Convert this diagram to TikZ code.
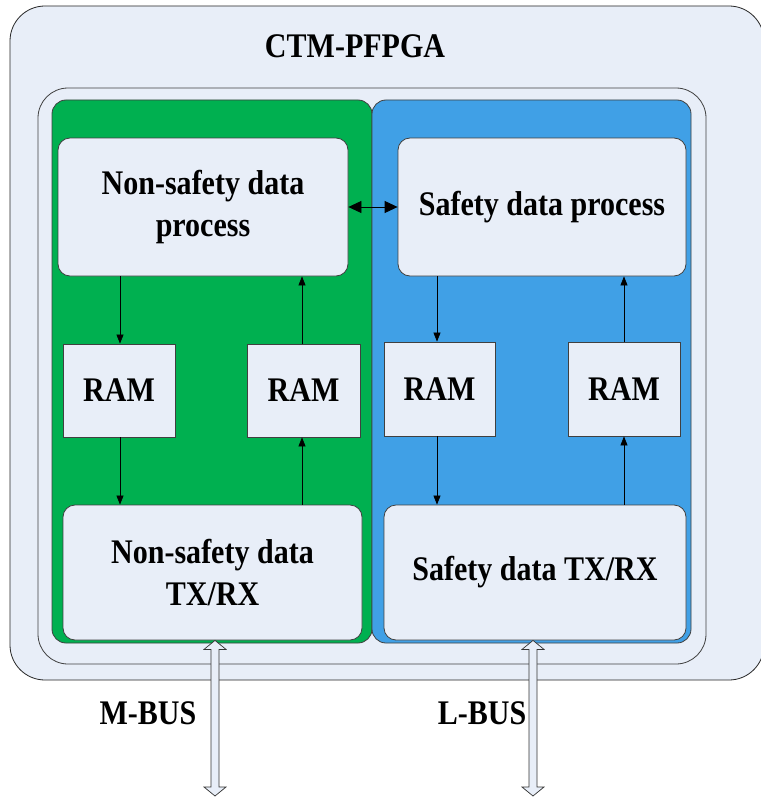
\documentclass[tikz,border=0pt]{standalone}
\usepackage{fontspec}
\setmainfont{Liberation Serif}[FakeStretch=0.87]
\usetikzlibrary{arrows.meta,calc}
\definecolor{bg}{HTML}{E8EEF8}
\definecolor{grn}{HTML}{00B050}
\definecolor{blu}{HTML}{40A0E6}
\begin{document}
\begin{tikzpicture}[x=1pt,y=-1pt,
  font=\fontsize{34.5}{42}\selectfont\bfseries,
  wbox/.style={draw=black!75, fill=bg, line width=0.8pt, inner sep=0pt, align=center},
  rbox/.style={wbox, rounded corners=12pt},
  arr/.style={line width=0.7pt, -{Triangle[length=9pt,width=7pt]}},
  darr/.style={line width=0.8pt, {Triangle[length=13pt,width=12pt]}-{Triangle[length=13pt,width=12pt]}},
  bus/.style={draw=black!80, fill=bg, line width=0.7pt, line join=miter}]
\useasboundingbox (0,0) rectangle (760,797);
\fill[white] (0,0) rectangle (760,797);
% outer frame
\draw[fill=bg, draw=black!85, line width=0.8pt, rounded corners=35pt] (10,6) rectangle (764,680);
\node (title) at (355,46) {CTM-PFPGA};
% inner frame
\draw[draw=black!75, line width=0.8pt, rounded corners=30pt] (38,88) rectangle (706,664);
% panels
\draw[fill=grn, draw=black!75, line width=0.8pt, rounded corners=14pt] (52,100) rectangle (372,643);
\draw[fill=blu, draw=black!75, line width=0.8pt, rounded corners=14pt] (372,100) rectangle (691,643);
% process boxes
\node[rbox, minimum width=290pt, minimum height=138pt] (ndp) at (203,207) {Non-safety data\\process};
\node[rbox, minimum width=288pt, minimum height=138pt] (sdp) at (542,207) {\raisebox{-3pt}{Safety data process}};
% RAM boxes
\node[wbox, minimum width=112pt, minimum height=93pt] (ram1) at (119,390.5) {RAM};
\node[wbox, minimum width=113pt, minimum height=93pt] (ram2) at (303.5,390.5) {RAM};
\node[wbox, minimum width=111pt, minimum height=94pt] (ram3) at (439.5,389) {RAM};
\node[wbox, minimum width=112pt, minimum height=94pt] (ram4) at (624,389) {RAM};
% TX/RX boxes
\node[rbox, minimum width=299pt, minimum height=135pt] (ntx) at (212.5,572.5) {Non-safety data\\TX/RX};
\node[rbox, minimum width=302pt, minimum height=135pt] (stx) at (535,572.5) {Safety data TX/RX};
% connectors
\draw[arr] (ndp.south -| 120,0) -- (ram1.north -| 120,0);
\draw[arr] (ram1.south -| 120,0) -- (ntx.north -| 120,0);
\draw[arr] (ntx.north -| 302,0) -- (ram2.south -| 302,0);
\draw[arr] (ram2.north -| 302,0) -- (ndp.south -| 302,0);
\draw[arr] (sdp.south -| 437,0) -- (ram3.north -| 437,0);
\draw[arr] (ram3.south -| 437,0) -- (stx.north -| 437,0);
\draw[arr] (stx.north -| 624,0) -- (ram4.south -| 624,0);
\draw[arr] (ram4.north -| 624,0) -- (sdp.south -| 624,0);
\draw[darr] (ndp.east) -- (sdp.west);
% buses
\coordinate (mtop) at (ntx.south -| 215,0);
\coordinate (mbot) at (215,796);
\coordinate (ltop) at (stx.south -| 533,0);
\coordinate (lbot) at (533,796);
\draw[bus] (mtop) -- ++(11,9) -- ++(-7,0) -- ($(mbot)+(4,-9)$) -- ++(7,0) -- (mbot) -- ++(-11,-9) -- ++(7,0) -- ($(mtop)+(-4,9)$) -- ++(-7,0) -- cycle;
\draw[bus] (ltop) -- ++(11,9) -- ++(-7,0) -- ($(lbot)+(4,-9)$) -- ++(7,0) -- (lbot) -- ++(-11,-9) -- ++(7,0) -- ($(ltop)+(-4,9)$) -- ++(-7,0) -- cycle;
\node (mlabel) at (148,713) {M-BUS};
\node (llabel) at (482,713) {L-BUS};
\end{tikzpicture}
\end{document}
